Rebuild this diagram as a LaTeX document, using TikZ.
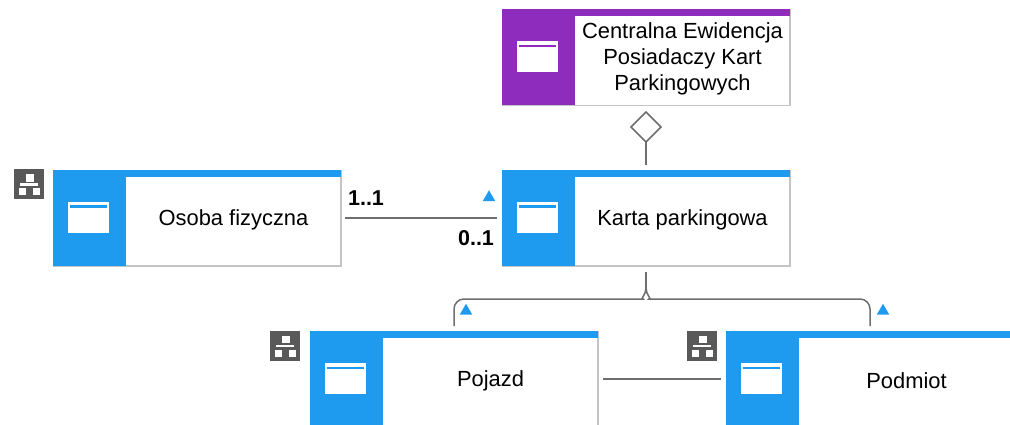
\documentclass[tikz,border=0pt]{standalone}
\usepackage{fontspec}
\setmainfont{Liberation Sans}
\usetikzlibrary{shapes.geometric}
\definecolor{entblue}{HTML}{1E9BEF}
\definecolor{entpurple}{HTML}{8E2DBD}
\definecolor{icongray}{HTML}{595959}
\definecolor{linkgray}{HTML}{6E6E6E}
\definecolor{edgegray}{HTML}{C4C4C4}
\tikzset{
	entbox/.style={minimum width=288pt,minimum height=96pt,outer sep=0pt,inner sep=0pt},
	entedge/.style={draw=edgegray,line width=1.5pt},
	entlabel/.style={font=\fontsize{21.9}{26}\selectfont,align=center,inner sep=0pt},
	multlabel/.style={font=\fontsize{21.5}{26}\selectfont\bfseries,inner sep=0pt},
	link/.style={draw=linkgray,line width=1.5pt},
	marker/.style={regular polygon,regular polygon sides=3,fill=entblue,minimum size=14.5pt,inner sep=0pt,outer sep=0pt},
}
\begin{document}
\begin{tikzpicture}[x=1pt,y=-1pt]
	\clip (0,0) rectangle (1010,425);
	\foreach \name/\cx/\cy/\col/\txt in {
		central/646/57.5/entpurple/{Centralna Ewidencja\\Posiadaczy Kart\\Parkingowych},
		karta/646/218/entblue/{Karta parkingowa},
		osoba/197/218/entblue/{Osoba fizyczna},
		pojazd/454/379/entblue/{Pojazd},
		podmiot/870/379/entblue/{Podmiot}}{
		\node[entbox] (\name) at (\cx,\cy) {};
		\draw[entedge] (\name.north east) -- (\name.south east) -- (\name.south west);
		\fill[\col] (\name.north west) rectangle ++(288,7);
		\fill[\col] (\name.north west) rectangle ++(73,96);
		\fill[white] (\name.north west) ++(15,32) rectangle ++(41,31);
		\fill[\col] (\name.north west) ++(17,35.5) rectangle ++(37,2.5);
		\node[entlabel] (\name-label) at ([xshift=36.5pt,yshift=-1.8pt]\name.center) {\txt};
	}
	% hierarchy icons
	\foreach \name/\dx in {osoba/-39,pojazd/-40,podmiot/-39}{
		\fill[icongray] (\name.north west) ++(\dx,-0.5) rectangle ++(30,30);
		\fill[white] (\name.north west) ++(\dx,-0.5) ++(12,5) rectangle ++(7.5,7.5);
		\fill[white] (\name.north west) ++(\dx,-0.5) ++(6,14) rectangle ++(18,2.5);
		\fill[white] (\name.north west) ++(\dx,-0.5) ++(5,19) rectangle ++(7,7);
		\fill[white] (\name.north west) ++(\dx,-0.5) ++(19,19) rectangle ++(7,7);
	}
	\node[diamond,draw=linkgray,line width=1.5pt,minimum width=30pt,minimum height=30pt,inner sep=0pt,outer sep=0pt] (whole) at (646,127) {};
	\draw[link,shorten <=5pt] (karta.north) -- (whole.south);
	\draw[link,shorten <=4pt,shorten >=5pt] (osoba.east) -- (karta.west);
	\draw[link,shorten <=5pt,shorten >=5pt] (pojazd.east) -- (podmiot.west);
	% fork below the parent box
	\coordinate (fork) at (646,288);
	\draw[link,shorten >=6pt] (fork) -- (karta.south);
	\draw[link,shorten >=5pt,rounded corners=10pt] (fork) .. controls (646,295) and (640,299) .. (633,299) -| (pojazd.north);
	\draw[link,shorten >=5pt,rounded corners=10pt] (fork) .. controls (646,295) and (652,299) .. (659,299) -| (podmiot.north);
	\node[marker] (mark-karta) at (489,197.5) {};
	\node[marker] (mark-pojazd) at (466,311) {};
	\node[marker] (mark-podmiot) at (883,311) {};
	\node[multlabel] (mult-osoba) at (366,198) {1..1};
	\node[multlabel] (mult-karta) at (476,238) {0..1};
\end{tikzpicture}
\end{document}
